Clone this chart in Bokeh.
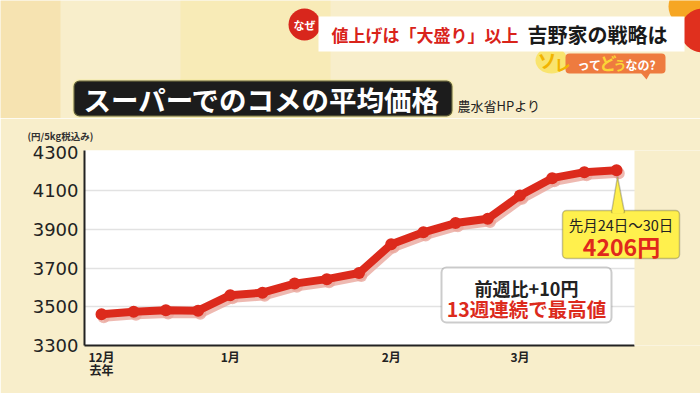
from bokeh.plotting import figure
from bokeh.layouts import column
from bokeh.models import Range1d, FixedTicker, Label, BoxAnnotation, PolyAnnotation, ColumnDataSource
from bokeh.embed import file_html
from bokeh.resources import INLINE

# ---- data ----
weeks = list(range(17))
prices = [3462, 3475, 3482, 3480, 3560, 3573, 3620, 3643, 3675,
          3823, 3885, 3933, 3955, 4075, 4165, 4196, 4206]
y_ticks = [3300, 3500, 3700, 3900, 4100, 4300]
grid_ticks = [3500, 3700, 3900, 4100]
x_tick_pos = [0, 4, 9, 13]
x_tick_labels = ["12月\n去年", "1月", "2月", "3月"]

JP = "Noto Sans CJK JP"
BG = "#f8eecb"
W = 700
HEAD_H = 118
FL, FR, FT, FB = 84, 634, 150, 345          # chart frame (reference pixels)
CH_H = 393 - HEAD_H

# ---------------- header figure (frame = whole area) ----------------
h = figure(width=W, height=HEAD_H, output_backend="svg", toolbar_location=None,
           x_range=Range1d(0, W), y_range=Range1d(HEAD_H, 0),
           x_axis_location=None, y_axis_location=None, frame_align=False,
           min_border=0, min_border_left=0, min_border_right=0,
           min_border_top=0, min_border_bottom=0)
h.border_fill_color = BG
h.background_fill_color = BG
h.outline_line_color = None
h.xgrid.grid_line_color = None
h.ygrid.grid_line_color = None

h.add_layout(BoxAnnotation(left=0, right=60, fill_color="#f3cf80", fill_alpha=0.35,
                           line_color=None, level="underlay"))
h.add_layout(BoxAnnotation(left=180, right=330, fill_color="#f9e27a", fill_alpha=0.25,
                           line_color=None, level="underlay"))
h.ellipse(x=[688], y=[6], width=40, height=40, fill_color="#f6a623", line_color=None)
h.ellipse(x=[702], y=[30], width=44, height=44, fill_color="#e0301e", line_color=None)


def hlab(x, y, text, size, color="#222222", bold=False, align="left", **kw):
    h.add_layout(Label(x=x, y=y, text=text, text_font=JP, text_font_size=f"{size}px",
                       text_color=color, text_font_style="bold" if bold else "normal",
                       text_align=align, text_baseline="middle", **kw))


# top banner
h.add_layout(BoxAnnotation(left=318, right=684, top=16, bottom=51, fill_color="white",
                           fill_alpha=1, line_color=None))
hlab(331, 34, "値上げは「大盛り」以上", 17, "#d9231a", True)
hlab(527, 34, "吉野家の戦略は", 20, "#1a1a1a", True)
h.ellipse(x=[304], y=[24], width=32, height=32, fill_color="#d8261c", line_color=None)
hlab(304, 24, "なぜ", 11, "white", True, "center")

# sub tag
h.ellipse(x=[551], y=[60], width=32, height=26, fill_color="#f9e46e", line_color=None)
h.add_layout(BoxAnnotation(left=565, right=665, top=53, bottom=73, fill_color="#ee7b3f",
                           fill_alpha=1, line_color=None, border_radius=4))
h.add_layout(PolyAnnotation(xs=[640, 650, 646], ys=[72, 72, 79], fill_color="#ee7b3f",
                            fill_alpha=1, line_color=None))
hlab(537, 59, "ソ", 19, "#f2b400", True)
hlab(554, 63, "レ", 16, "#f2b400", True)
hlab(577, 64, "って", 12, "white", True)
hlab(599, 62, "ど", 17, "#fbd436", True)
hlab(613, 64, "う", 13, "#fbd436", True)
hlab(625, 64, "なの?", 12, "white", True)

# title
h.add_layout(BoxAnnotation(left=73, right=452, top=80, bottom=116, fill_color="#1c1c1c",
                           fill_alpha=1, line_color="#f2ea78", line_width=2.5, border_radius=6))
hlab(83, 98, "スーパーでのコメの平均価格", 27.5, "white", True)
hlab(457, 105, "農水省HPより", 13, "#222222")

# ---------------- chart figure ----------------
x0 = (FL - 101) / 32.19
x1 = (W - 101) / 32.19
p = figure(width=W, height=CH_H, output_backend="svg", toolbar_location=None,
           x_range=Range1d(x0, x1), y_range=Range1d(3300, 4308), frame_align=False,
           min_border_left=FL, min_border_right=0, min_border_top=FT - HEAD_H,
           min_border_bottom=393 - FB, title="(円/5kg税込み)")
p.border_fill_color = BG
p.background_fill_color = "white"
p.outline_line_color = None
p.title.align = "left"
p.title.offset = 27 - FL
p.title.standoff = 15
p.title.text_font = JP
p.title.text_font_size = "9.5px"
p.title.text_font_style = "bold"
p.title.text_color = "#333333"

p.yaxis.ticker = FixedTicker(ticks=y_ticks)
p.yaxis.major_label_text_font = "DejaVu Sans"
p.yaxis.major_label_text_font_size = "18px"
p.yaxis.major_label_text_color = "#222222"
p.yaxis.major_tick_line_color = None
p.yaxis.major_tick_out = 0
p.yaxis.minor_tick_line_color = None
p.yaxis.axis_line_color = "#222222"
p.yaxis.axis_line_width = 2
p.yaxis.major_label_standoff = 6

p.xaxis.ticker = FixedTicker(ticks=x_tick_pos)
p.xaxis.major_label_overrides = {k: v for k, v in zip(x_tick_pos, x_tick_labels)}
p.xaxis.major_label_text_font = JP
p.xaxis.major_label_text_font_size = "12px"
p.xaxis.major_label_text_font_style = "bold"
p.xaxis.major_label_text_color = "#222222"
p.xaxis.major_label_text_line_height = 0.8
p.xaxis.major_tick_line_color = None
p.xaxis.major_tick_out = 0
p.xaxis.minor_tick_line_color = None
p.xaxis.axis_line_color = "#222222"
p.xaxis.axis_line_width = 2
p.xaxis.major_label_standoff = 2
p.xaxis.bounds = (x0, (FR - 101) / 32.19)

p.xgrid.grid_line_color = None
p.ygrid.ticker = FixedTicker(ticks=grid_ticks)
p.ygrid.grid_line_color = "#e2e2e2"
p.ygrid.grid_line_width = 1.5


def sx(rx):
    return rx - FL


def sy(ry):
    return FB - ry


def box(l, r, t, b, fill, line=None, lw=1, radius=0):
    p.add_layout(BoxAnnotation(left=sx(l), right=sx(r), top=sy(t), bottom=sy(b),
                               left_units="screen", right_units="screen",
                               top_units="screen", bottom_units="screen",
                               fill_color=fill, fill_alpha=1, line_color=line,
                               line_width=lw, border_radius=radius))


def lab(x, y, text, size, color="#222222", bold=False, align="left", **kw):
    p.add_layout(Label(x=sx(x), y=sy(y), x_units="screen", y_units="screen", text=text,
                       text_font=JP, text_font_size=f"{size}px", text_color=color,
                       text_font_style="bold" if bold else "normal",
                       text_align=align, text_baseline="middle", **kw))


box(FR, W + 5, 140, FB + 5, BG)

src = ColumnDataSource(dict(week=weeks, price=prices))
p.extra_x_ranges = {"sh": Range1d(x0 - 0.07, x1 - 0.07)}
p.extra_y_ranges = {"sh": Range1d(3300 + 16, 4308 + 16)}
p.line("week", "price", source=src, x_range_name="sh", y_range_name="sh",
       line_width=9, line_color="#eaa89e", line_alpha=0.8)
p.scatter("week", "price", source=src, x_range_name="sh", y_range_name="sh",
          size=12, fill_color="#eaa89e", line_color=None, fill_alpha=0.8)
p.line("week", "price", source=src, line_width=8, line_color="#dc2a1c")
p.scatter("week", "price", source=src, size=12, fill_color="#dc2a1c", line_color=None)

# callout for last value
box(562, 679, 210, 258, "#fff04d", "#3a3a3a", 1.5, 4)
p.add_layout(PolyAnnotation(xs=[sx(611), sx(617), sx(624)], ys=[sy(212), sy(176), sy(212)],
                            xs_units="screen", ys_units="screen",
                            fill_color="#fff04d", fill_alpha=1, line_color="#3a3a3a",
                            line_width=1.5))
box(612, 623, 209, 213, "#fff04d")
lab(620.5, 224, "先月24日～30日", 14.5, "#222222", False, "center")
lab(621, 245, "4206円", 23, "#e0281c", True, "center")

# weekly comparison box
box(441, 611, 267, 322, "white", "#555555", 2, 5)
lab(526, 287, "前週比+10円", 18, "#222222", True, "center")
lab(526, 308, "13週連続で最高値", 19.5, "#dc2a1c", True, "center")

layout = column(h, p, spacing=0)
open("out.html", "w").write(file_html(layout, INLINE))
